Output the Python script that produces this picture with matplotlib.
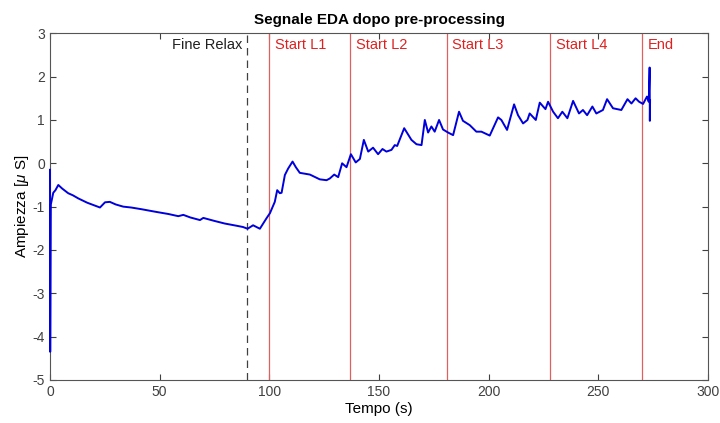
#EDA signal after pre-processing, with task markers
import matplotlib.pyplot as plt

plt.rcParams['font.family']=['Liberation Sans','DejaVu Sans']
plt.rcParams['mathtext.fontset']='custom'
plt.rcParams['mathtext.it']='Liberation Sans:italic'
plt.rcParams['mathtext.rm']='Liberation Sans'
plt.rcParams['axes.unicode_minus']=False

#signal samples (time in s, amplitude in uS)
t=[0,0.1,0.4,1.5,2.5,3.8,5.5,8.3,10.5,12.9,17,22.8,25.1,27.3,30,33.4,37,41.8,45,49.4,54,58.5,60.8,64,68.4,69.9,
   75,79.7,85,88,90.1,92.6,95.7,98.7,100.3,102.5,103.6,104.8,105.6,107.1,108.6,110.6,112.1,113.9,118.5,123,126.1,
   127.6,129.6,131.4,133.2,135.2,137.2,139.4,141.3,143.1,145.1,147.3,149.6,151.6,153.4,155.7,157.2,158.3,161.5,
   164.8,167.1,169.4,170.9,172.4,173.9,175.4,177.4,179.2,181.5,183.8,186.5,188.3,191.4,194.4,196.7,200.5,204.3,
   205.8,208.4,211.6,213.4,215.7,217.7,218.7,221.5,223.3,225.9,227.1,229.4,231.6,233.6,235.9,238.5,241.2,243,
   244.9,247.3,249.1,252.1,254,256.7,260.5,263.3,265.1,267,268.6,270.4,272.2,273,273.4,273.5,273.6]
eda=[-0.15,-4.35,-0.95,-0.68,-0.62,-0.5,-0.58,-0.69,-0.74,-0.81,-0.91,-1.02,-0.9,-0.89,-0.95,-1.0,-1.02,-1.06,
     -1.09,-1.13,-1.17,-1.22,-1.19,-1.25,-1.31,-1.26,-1.33,-1.39,-1.44,-1.47,-1.51,-1.43,-1.51,-1.27,-1.15,-0.89,
     -0.62,-0.69,-0.68,-0.27,-0.12,0.04,-0.09,-0.22,-0.26,-0.37,-0.39,-0.35,-0.26,-0.32,0.0,-0.09,0.21,0.02,0.1,
     0.54,0.27,0.36,0.21,0.33,0.27,0.31,0.42,0.4,0.81,0.54,0.44,0.42,1.0,0.71,0.85,0.73,1.0,0.78,0.71,0.65,1.19,
     0.98,0.88,0.73,0.73,0.64,1.06,1.0,0.77,1.36,1.11,0.92,1.0,1.15,1.0,1.4,1.25,1.42,1.19,1.04,1.19,1.04,1.44,
     1.15,1.23,1.11,1.31,1.15,1.23,1.48,1.27,1.23,1.48,1.38,1.5,1.42,1.37,1.54,1.42,2.21,0.98,1.45]

#event markers
fine_relax=90
events=[100,137,181,228,270]
event_labels=["Start L1","Start L2","Start L3","Start L4","End"]

fig=plt.figure(figsize=(7.2,4.23),dpi=100)
ax=fig.add_axes([0.0694,0.1017,0.9139,0.8196])

ax.plot(t,eda,color='#0000dd',lw=1.4,zorder=3,clip_on=False,solid_joinstyle='round')
ax.axvline(fine_relax,color='#404040',lw=0.9,ls=(0,(6,4)))
ax.text(fine_relax-2.5,2.73,"Fine Relax",ha='right',va='center',fontsize=10.5,color='#202020')
for x,lab in zip(events,event_labels):
    ax.axvline(x,color='#e06060',lw=0.9)
    ax.text(x+2.5,2.73,lab,ha='left',va='center',fontsize=10.5,color='#e02020')

ax.set_xlim(0,300)
ax.set_ylim(-5,3)
ax.set_xticks(range(0,301,50))
ax.set_yticks(range(-5,4))
ax.tick_params(direction='in',top=True,right=True,labelsize=10,colors='#404040',length=4,width=0.8)
for s in ax.spines.values():
    s.set_color('#555555')
    s.set_linewidth(0.8)
ax.set_title("Segnale EDA dopo pre-processing",fontsize=11,fontweight='bold',pad=7)
ax.set_xlabel("Tempo (s)",fontsize=11,labelpad=2)
ax.set_ylabel(r"Ampiezza [$\mu$ S]",fontsize=11,labelpad=1)

fig.savefig("out.png",dpi=100)
